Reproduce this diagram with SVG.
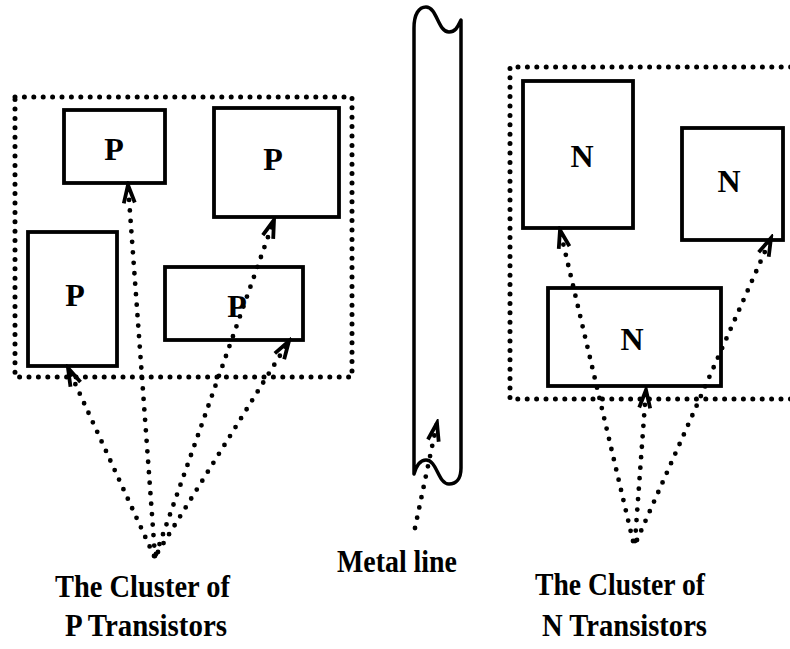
<svg xmlns="http://www.w3.org/2000/svg" width="790" height="649" viewBox="0 0 790 649">
  <style>
    .cluster { fill: none; stroke: #000; stroke-width: 5; stroke-linecap: round; stroke-dasharray: 0 9.4; }
    .box { fill: #fff; stroke: #000; stroke-width: 3.8; }
    .lbl { font-family: "Liberation Serif", "Times New Roman", serif; font-weight: bold; font-size: 32px; text-anchor: middle; fill: #000; }
    .cap { font-family: "Liberation Serif", "Times New Roman", serif; font-weight: bold; font-size: 31px; fill: #000; }
    .ptr { fill: none; stroke: #000; stroke-width: 4.8; stroke-linecap: round; stroke-dasharray: 0 10.5; marker-end: url(#ah); }
    .metal { fill: #fff; stroke: #000; stroke-width: 3.5; stroke-linejoin: round; }
  </style>
  <defs>
    <marker id="ah" markerUnits="userSpaceOnUse" orient="auto" markerWidth="26" markerHeight="20" viewBox="-22 -10 26 20" refX="0" refY="0">
      <path d="M-18,-5.5 L0,0 L-18,5.5" fill="none" stroke="#000" stroke-width="3.8" stroke-linejoin="miter"/>
    </marker>
  </defs>

  <rect width="790" height="649" fill="#fff"/>

  <!-- P transistor cluster -->
  <g id="p-cluster">
    <rect class="cluster" x="15" y="97" width="337" height="280"/>
    <g id="p1">
      <rect class="box" x="64" y="110" width="101" height="73"/>
      <text class="lbl" x="114" y="160">P</text>
    </g>
    <g id="p2">
      <rect class="box" x="214" y="108" width="125" height="109"/>
      <text class="lbl" x="273" y="170">P</text>
    </g>
    <g id="p3">
      <rect class="box" x="28" y="232" width="89" height="134"/>
      <text class="lbl" x="75" y="306">P</text>
    </g>
    <g id="p4">
      <rect class="box" x="165" y="267" width="138" height="73"/>
      <text class="lbl" x="237" y="317">P</text>
    </g>
  </g>

  <!-- N transistor cluster -->
  <g id="n-cluster">
    <path class="cluster" d="M800,67 L510,67 L510,399 L800,399"/>
    <g id="n1">
      <rect class="box" x="523" y="81" width="110" height="147"/>
      <text class="lbl" x="582" y="167">N</text>
    </g>
    <g id="n2">
      <rect class="box" x="682" y="128" width="101" height="112"/>
      <text class="lbl" x="729" y="192">N</text>
    </g>
    <g id="n3">
      <rect class="box" x="548" y="288" width="173" height="98"/>
      <text class="lbl" x="632" y="350">N</text>
    </g>
  </g>

  <!-- Metal line strip with broken ends -->
  <g id="metal-line">
    <path class="metal" d="M414,474 L414,28 C414,14 419,7 426,7 C437,7 438,32 449,32 C456,32 458,26 461,20 L461,468 C461,479 456,484 449,484 C438,484 437,460 426,460 C420,460 416,467 414,474 Z"/>
  </g>

  <!-- Dotted pointers from the captions -->
  <g id="connectors">
    <path class="ptr" d="M154,556 L68,368"/>
    <path class="ptr" d="M155,556 L128,185"/>
    <path class="ptr" d="M156,554 L274,220"/>
    <path class="ptr" d="M158,552 L289,341"/>
    <path class="ptr" d="M633,541 L560,230"/>
    <path class="ptr" d="M635,541 L646,390"/>
    <path class="ptr" d="M637,540 L771,238"/>
    <path class="ptr" d="M415,528 L437,423"/>
  </g>

  <!-- Captions -->
  <g id="captions">
    <text class="cap" x="55" y="597" textLength="175" lengthAdjust="spacingAndGlyphs">The Cluster of</text>
    <text class="cap" x="65" y="636" textLength="162" lengthAdjust="spacingAndGlyphs">P Transistors</text>
    <text class="cap" x="337" y="572" textLength="120" lengthAdjust="spacingAndGlyphs">Metal line</text>
    <text class="cap" x="535" y="595" textLength="170" lengthAdjust="spacingAndGlyphs">The Cluster of</text>
    <text class="cap" x="542" y="636" textLength="165" lengthAdjust="spacingAndGlyphs">N Transistors</text>
  </g>
</svg>
